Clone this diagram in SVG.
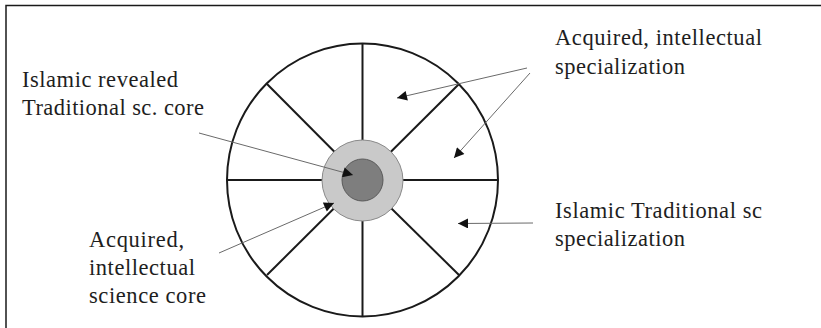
<svg xmlns="http://www.w3.org/2000/svg" width="821" height="328" viewBox="0 0 821 328">
<style>
.frame{stroke:#1a1a1a;stroke-width:1.5;fill:none}
.wheel{stroke:#1a1a1a;stroke-width:2;fill:none}
.spoke{stroke:#1a1a1a;stroke-width:2}
.conn{stroke:#6a6a6a;stroke-width:1;fill:none}
</style>
<defs>
<marker id="ah" viewBox="0 0 10 10" refX="10" refY="5" markerWidth="14" markerHeight="10" markerUnits="userSpaceOnUse" orient="auto">
<path d="M0,0 L10,5 L0,10 z" fill="#111"/>
</marker>
</defs>
<rect width="821" height="328" fill="#fff"/>
<path class="frame" d="M6,328 V5.5 H821"/>
<g id="wheel">
<ellipse class="wheel" cx="362.5" cy="180" rx="135.5" ry="136.5"/>
<line class="spoke" x1="362.5" y1="43.5" x2="362.5" y2="316.5"/>
<line class="spoke" x1="227" y1="180" x2="498" y2="180"/>
<line class="spoke" x1="362.5" y1="180" x2="459" y2="84"/>
<line class="spoke" x1="362.5" y1="180" x2="267" y2="84"/>
<line class="spoke" x1="362.5" y1="180" x2="267" y2="275"/>
<line class="spoke" x1="362.5" y1="180" x2="459" y2="275"/>
</g>
<g id="outer-core">
<ellipse cx="362.5" cy="180.5" rx="40.5" ry="40.5" fill="#c9c9c9" stroke="#8a8a8a" stroke-width="1"/>
</g>
<g id="inner-core">
<ellipse cx="362.5" cy="180" rx="20.5" ry="21" fill="#7e7e7e" stroke="#5a5a5a" stroke-width="1"/>
</g>
<g id="connectors">
<line class="conn" x1="199" y1="133" x2="353" y2="175" marker-end="url(#ah)"/>
<line class="conn" x1="219" y1="253" x2="334" y2="203" marker-end="url(#ah)"/>
<line class="conn" x1="527" y1="68" x2="397" y2="98" marker-end="url(#ah)"/>
<line class="conn" x1="530" y1="73" x2="454" y2="158" marker-end="url(#ah)"/>
<line class="conn" x1="533" y1="223" x2="458" y2="223.5" marker-end="url(#ah)"/>
</g>
<g font-family="Liberation Serif" font-size="22.5" fill="#1e1e1e">
<g id="label-revealed-core">
<text x="22" y="87" textLength="156">Islamic revealed</text>
<text x="22" y="115" textLength="182">Traditional sc. core</text>
</g>
<g id="label-acquired-spec">
<text x="555" y="45" textLength="207">Acquired, intellectual</text>
<text x="555" y="74" textLength="130">specialization</text>
</g>
<g id="label-traditional-spec">
<text x="555" y="218" textLength="207">Islamic Traditional sc</text>
<text x="555" y="246" textLength="130">specialization</text>
</g>
<g id="label-acquired-core">
<text x="89" y="247" textLength="95">Acquired,</text>
<text x="89" y="275" textLength="106">intellectual</text>
<text x="89" y="303" textLength="117">science core</text>
</g>
</g>
</svg>
